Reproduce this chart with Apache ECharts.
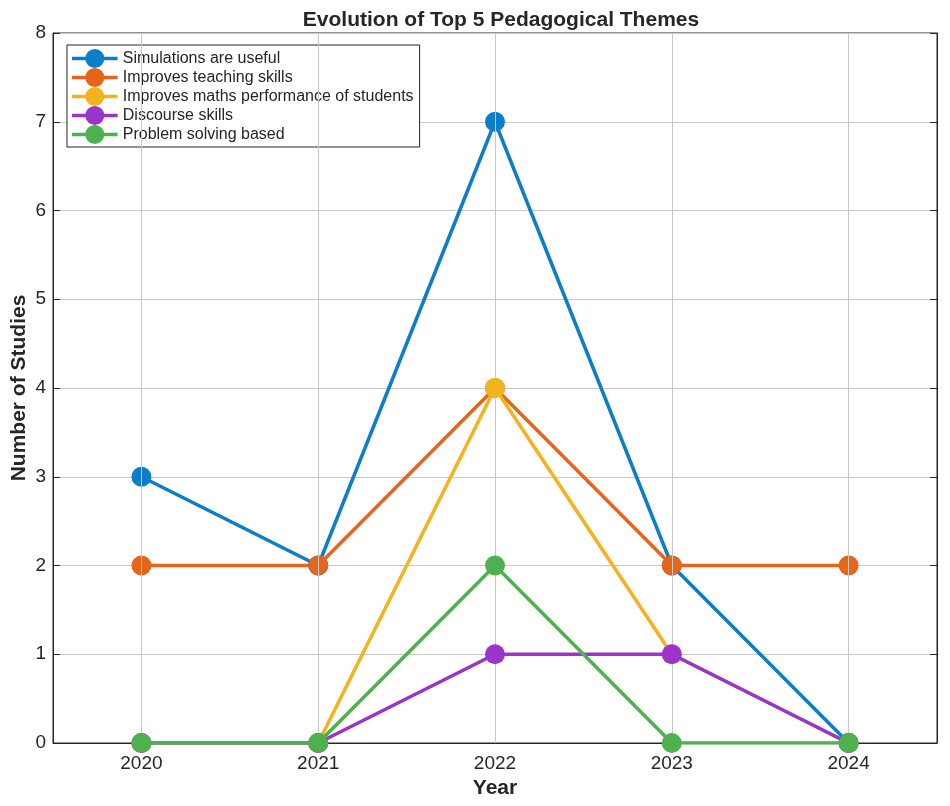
<!DOCTYPE html>
<html><head><meta charset="utf-8">
<script src="https://cdn.jsdelivr.net/npm/echarts@6/dist/echarts.min.js"></script>
<style>html,body{margin:0;padding:0;background:#fff}#c{width:950px;height:806px}</style>
</head><body><div id="c"></div>
<script>
const years = [2020, 2021, 2022, 2023, 2024];
const seriesNames = ["Simulations are useful","Improves teaching skills","Improves maths performance of students","Discourse skills","Problem solving based"];
const simulations = [3, 2, 7, 2, 0];
const teaching = [2, 2, 4, 2, 2];
const maths = [0, 0, 4, 1, 0];
const discourse = [0, 0, 1, 1, 0];
const problemSolving = [0, 0, 2, 0, 0];
const colors = ["#0B7DC9", "#E5661A", "#F2B31E", "#9B34CC", "#4DB24D"];
const yTicks = [0,1,2,3,4,5,6,7,8];

const values = [simulations, teaching, maths, discourse, problemSolving];
const chart = echarts.init(document.getElementById('c'));
const font = '"Liberation Sans", Arial, Helvetica, sans-serif';
const txt = '#262626';
const legendIcon = 'path://M0,8.25H48V11.75H0Z M14,10A10,10 0 1,1 34,10A10,10 0 1,1 14,10Z';
const series = [{
  name: '__grid', type: 'line', data: [], z: 1, silent: true,
  markLine: {
    silent: true, symbol: ['none', 'none'], label: { show: false },
    lineStyle: { color: '#c8c8c8', width: 1, type: 'solid' },
    emphasis: { disabled: true },
    data: years.map(y => ({ xAxis: y }))
  }
}];
seriesNames.forEach((n, i) => series.push({
  name: n, type: 'line', z: 3 + i,
  data: years.map((y, j) => [y, values[i][j]]),
  symbol: 'circle', symbolSize: 20,
  lineStyle: { width: 3.5, color: colors[i] },
  itemStyle: { color: colors[i] },
  emphasis: { disabled: true }
}));
chart.setOption({
  animation: false,
  title: { text: 'Evolution of Top 5 Pedagogical Themes', left: 496, textAlign: 'center', top: 5,
    textStyle: { fontFamily: font, fontWeight: 'bold', fontSize: 21, color: txt } },
  grid: { left: 53, right: 13, top: 33, bottom: 63, containLabel: false, outerBoundsMode: 'none',
    show: true, borderColor: txt, borderWidth: 1 },
  legend: {
    orient: 'vertical', left: 67, top: 45, itemWidth: 48, itemHeight: 19, itemGap: 0,
    padding: [4, 6, 3, 5], backgroundColor: '#fff', borderColor: txt, borderWidth: 1,
    textStyle: { fontFamily: font, fontSize: 16, color: txt, padding: [0, 0, 0, -1] },
    data: seriesNames.map(n => ({ name: n, icon: legendIcon }))
  },
  xAxis: {
    type: 'value', min: 2019.5, max: 2024.5, interval: 0.5,
    name: 'Year', nameLocation: 'middle', nameGap: 35, nameMoveOverlap: false,
    nameTextStyle: { fontFamily: font, fontWeight: 'bold', fontSize: 21, color: txt },
    axisLine: { show: true, lineStyle: { color: txt } },
    axisTick: { show: false },
    axisLabel: { fontFamily: font, fontSize: 19, color: txt, margin: 11,
      formatter: v => years.includes(v) ? String(v) : '' },
    splitLine: { show: false }
  },
  yAxis: [{
    type: 'value', min: yTicks[0], max: yTicks[yTicks.length-1], interval: 1,
    name: 'Number of Studies', nameLocation: 'middle', nameGap: 23, nameMoveOverlap: false,
    nameTextStyle: { fontFamily: font, fontWeight: 'bold', fontSize: 21, color: txt },
    axisLine: { show: true, lineStyle: { color: txt } },
    axisTick: { show: true, inside: true, length: 7, lineStyle: { color: txt } },
    axisLabel: { fontFamily: font, fontSize: 19, color: txt, margin: 7 },
    splitLine: { show: true, lineStyle: { color: '#c8c8c8', width: 1 } }
  }, {
    type: 'value', position: 'right', min: yTicks[0], max: yTicks[yTicks.length-1], interval: 1,
    axisLine: { show: true, lineStyle: { color: txt } },
    axisTick: { show: true, inside: true, length: 7, lineStyle: { color: txt } },
    axisLabel: { show: false }, splitLine: { show: false }
  }],
  series: series
});
</script></body></html>
